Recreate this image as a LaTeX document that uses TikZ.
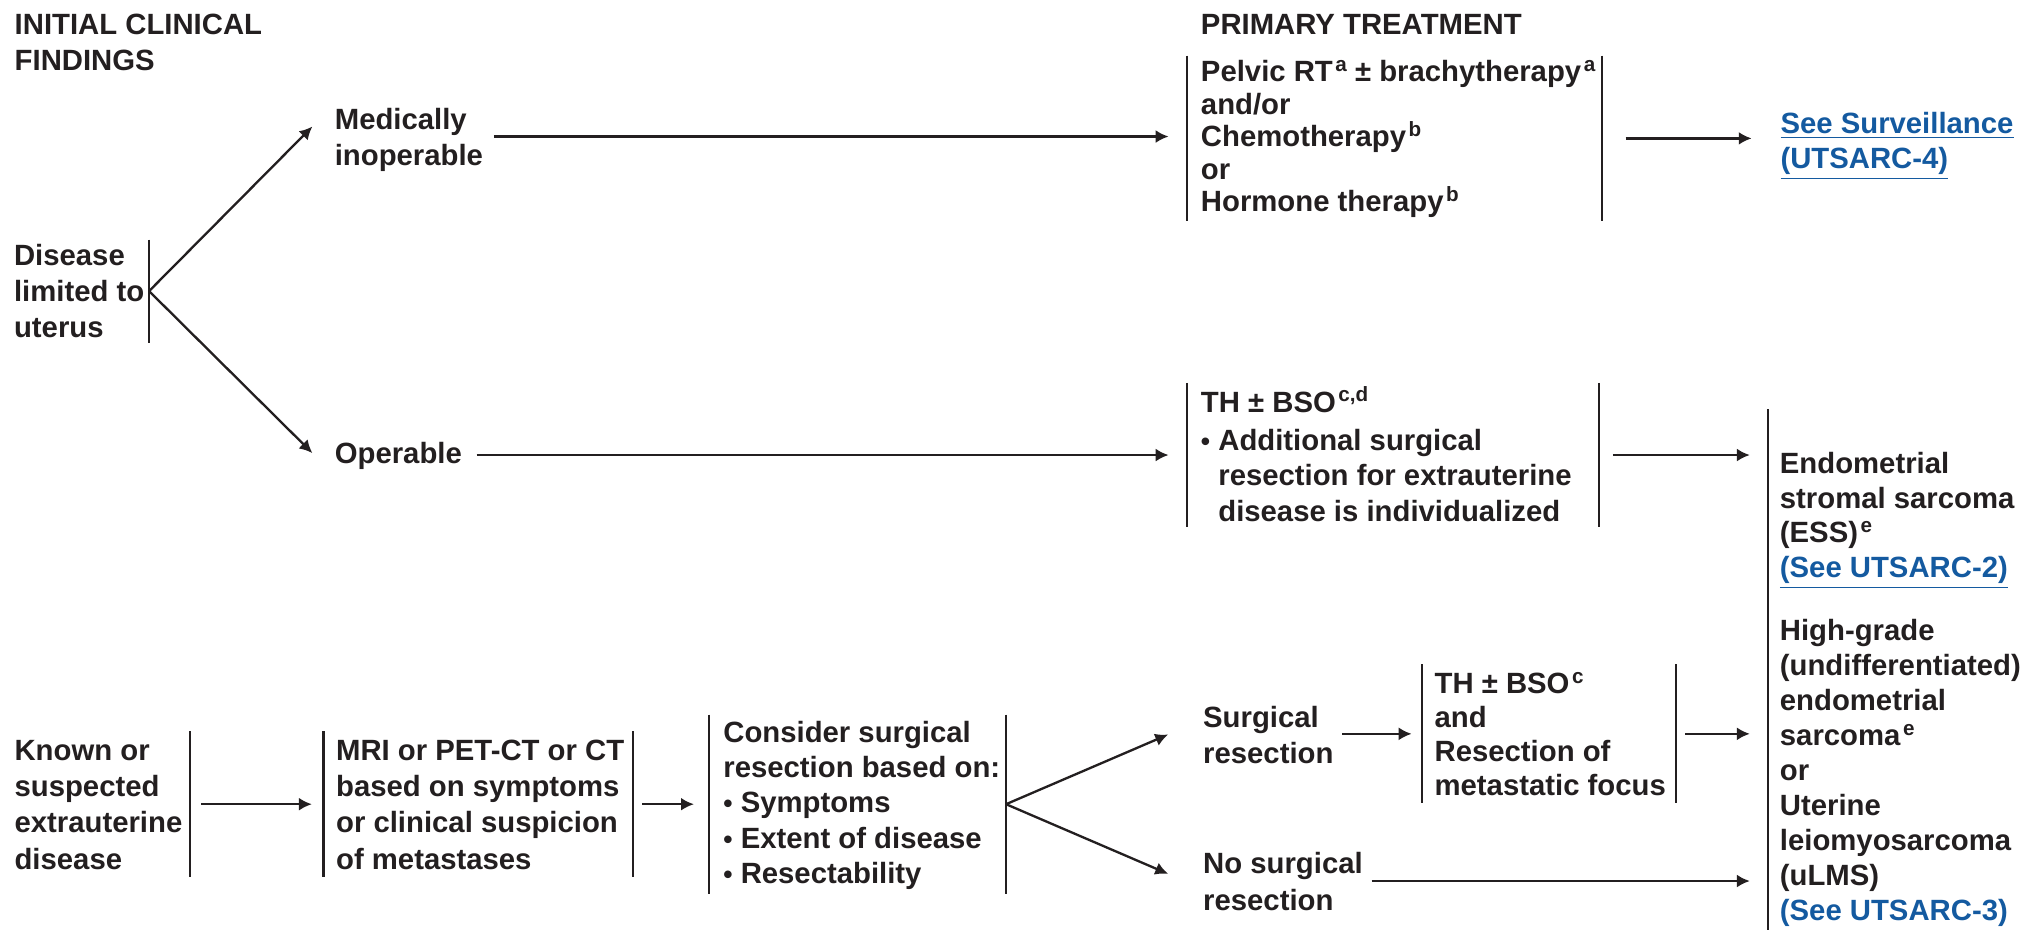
\documentclass[tikz,border=0pt]{standalone}
\usepackage{fontspec}
\setmainfont{Liberation Sans}
\usetikzlibrary{arrows.meta,fit,calc}
\definecolor{linkblue}{RGB}{20,90,160}
\definecolor{ink}{RGB}{35,31,32}
\newcommand\sups[1]{\kern1pt\raisebox{4pt}{\fontsize{8pt}{8pt}\selectfont#1}}
\newcommand\topstr{\rule{0pt}{11pt}}
\newcommand\lnk[1]{{\color{linkblue}\underline{#1}}}
\newcommand\bul{\scalebox{0.9}{•}\ }
\begin{document}
\begin{tikzpicture}[x=0.5pt,y=-0.5pt,
  txt/.style={anchor=north west,inner sep=0pt,align=left,text=ink,
    font=\fontsize{11.35pt}{#1}\selectfont\bfseries},
  txt/.default={14pt},
  arr/.style={-{Latex[length=5pt,width=5pt]},line width=0.9pt,draw=ink},
  bar/.style={line width=0.8pt,draw=ink},
  fitbox/.style={inner sep=0pt,draw=none}
]
\useasboundingbox (0,0) rectangle (1568,720);

% ---------- text nodes ----------
\node[txt] (hdrA) at (11,4) {\topstr INITIAL CLINICAL\\FINDINGS};
\node[txt] (hdrB) at (930,4) {\topstr PRIMARY TREATMENT};
\node[txt] (dis) at (10.5,183) {\topstr Disease\\limited to\\uterus};
\node[txt] (med) at (259,78) {\topstr Medically\\inoperable};
\node[txt] (oper) at (259,337) {\topstr Operable};
\node[txt=12.6pt] (pelv) at (930,41) {\topstr Pelvic RT\sups{a} ± brachytherapy\sups{a}\\and/or\\Chemotherapy\sups{b}\\or\\Hormone therapy\sups{b}};
\node[txt=13.75pt] (surv) at (1379,81) {\topstr\lnk{See Surveillance}\\\lnk{(UTSARC-4)}};
\node[txt=13.75pt] (th1) at (930,297) {\topstr TH ± BSO\sups{c,d}\\[1pt]\bul Additional surgical\\\hphantom{\bul}resection for extrauterine\\\hphantom{\bul}disease is individualized};
\node[txt=13.4pt] (ess) at (1378.5,344.6) {\topstr Endometrial\\stromal sarcoma\\(ESS)\sups{e}\\\lnk{(See UTSARC-2)}};
\node[txt=13.55pt] (hg) at (1378.5,473.8) {\topstr High-grade\\(undifferentiated)\\endometrial\\sarcoma\sups{e}\\or\\Uterine\\leiomyosarcoma\\(uLMS)\\\lnk{(See UTSARC-3)}};
\node[txt] (known) at (10.9,566.8) {\topstr Known or\\suspected\\extrauterine\\disease};
\node[txt] (mri) at (260,566.8) {\topstr MRI or PET-CT or CT\\based on symptoms\\or clinical suspicion\\of metastases};
\node[txt=13.7pt] (cons) at (560,552.6) {\topstr Consider surgical\\resection based on:\\\bul Symptoms\\\bul Extent of disease\\\bul Resectability};
\node[txt] (surg) at (931.7,541) {\topstr Surgical\\resection};
\node[txt=14.5pt] (nosurg) at (931.7,654) {\topstr No surgical\\resection};
\node[txt=13.2pt] (th2) at (1111,515) {\topstr TH ± BSO\sups{c}\\and\\Resection of\\metastatic focus};

% ---------- bracket boxes ----------
\node[fitbox,fit={(115.5,186) (115.5,265)}] (dbar) {};
\node[fitbox,fit={(919.7,43.4) (1240.5,171)}] (pelvbox) {};
\node[fitbox,fit={(919.7,297) (1238.5,408)}] (th1box) {};
\node[fitbox,fit={(1369.5,317.6) (1369.5,720)}] (bigbar) {};
\node[fitbox,fit={(147,567) (147,679)}] (knbar) {};
\node[fitbox,fit={(251,567) (490,679)}] (mribox) {};
\node[fitbox,fit={(550,554) (779,692)}] (consbox) {};
\node[fitbox,fit={(1102,515) (1298,622)}] (th2box) {};

\draw[bar] (dbar.north) -- (dbar.south);
\draw[bar] (bigbar.north) -- (bigbar.south);
\draw[bar] (knbar.north) -- (knbar.south);
\foreach \b in {pelvbox,th1box,mribox,consbox,th2box}{
  \draw[bar] (\b.north west) -- (\b.south west);
  \draw[bar] (\b.north east) -- (\b.south east);
}

% ---------- arrow tips (free ends) ----------
\coordinate (medtip) at (242,98);
\coordinate (optip) at (242,351);
\coordinate (sgtip) at (905,569);
\coordinate (nstip) at (905,677);

% ---------- connectors ----------
\draw[arr] (dbar.center) -- (medtip);
\draw[arr] (dbar.center) -- (optip);
\draw[arr] ($(med.east)+(8,0)$) -- ($(med.east -| pelvbox.west)+(-14,0)$);
\draw[arr] ($(pelvbox.east)+(18.5,0)$) -- ($(pelvbox.east -| surv.west)+(-22,0)$);
\draw[arr] ($(th1box.west -| oper.east)+(11,0)$) -- ($(th1box.west)+(-14,0)$);
\draw[arr] ($(th1box.east)+(10.5,0)$) -- ($(th1box.east -| bigbar.west)+(-12.5,0)$);
\draw[arr] ($(knbar.center)+(9,0)$) -- ($(knbar.center -| mribox.west)+(-9,0)$);
\draw[arr] ($(mribox.east)+(7,0)$) -- ($(mribox.east -| consbox.west)+(-12,0)$);
\draw[arr] (consbox.east) -- (sgtip);
\draw[arr] (consbox.east) -- (nstip);
\draw[arr] ($(th2box.west -| surg.east)+(6.5,0)$) -- ($(th2box.west)+(-8,0)$);
\draw[arr] ($(th2box.east)+(7,0)$) -- ($(th2box.east -| bigbar.west)+(-12.5,0)$);
\draw[arr] ($(nosurg.east)+(6.5,2.5)$) -- ($(nosurg.east -| bigbar.west)+(-12.5,2.5)$);
\end{tikzpicture}
\end{document}
